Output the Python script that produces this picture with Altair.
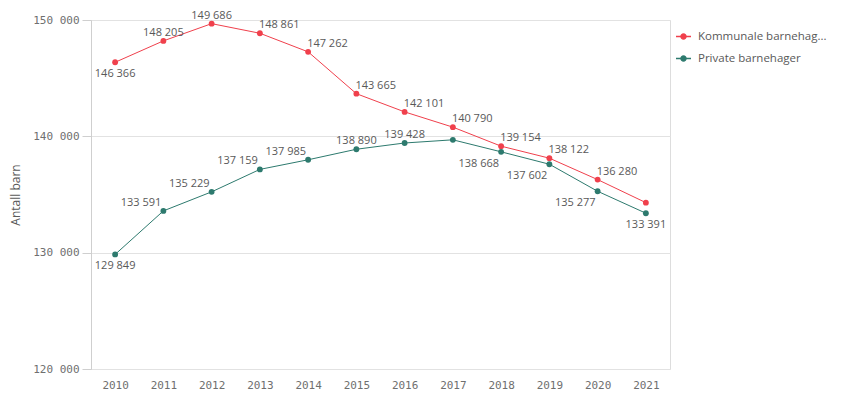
import altair as alt
import pandas as pd

years = ["2010", "2011", "2012", "2013", "2014", "2015",
         "2016", "2017", "2018", "2019", "2020", "2021"]
series_names = ["Kommunale barnehager", "Private barnehager"]
kommunale = [146366, 148205, 149686, 148861, 147262, 143665,
             142101, 140790, 139154, 138122, 136280, 134300]
private = [129849, 133591, 135229, 137159, 137985, 138890,
           139428, 139700, 138668, 137602, 135277, 133391]
y_ticks = [120000, 130000, 140000, 150000]
colors = ["#f0404c", "#2d7a6e"]

# label placement (style, not data)
place_k = ["below-center", "above-center", "above-center"] + ["above-left"] * 8 + ["none"]
place_p = (["below-center"] + ["above-right"] * 4 + ["above-center", "above-center", "none"]
           + ["below-right"] * 3 + ["below-center"])

rows = []
for i, y in enumerate(years):
    rows.append({"year": y, "series": series_names[0], "value": kommunale[i], "place": place_k[i]})
    rows.append({"year": y, "series": series_names[1], "value": private[i], "place": place_p[i]})
df = pd.DataFrame(rows)

legend_path = "M-1,0L-0.33,0M0.33,0L1,0M0.33,0A0.33,0.33,0,1,1,-0.33,0A0.33,0.33,0,1,1,0.33,0Z"

legend = alt.Legend(
    title=None, orient="none", legendX=584, legendY=8,
    symbolType=legend_path, symbolSize=225, symbolStrokeWidth=1.5,
    labelFont="Open Sans", labelFontSize=11.5, labelColor="#595959",
    rowPadding=8, labelOffset=6, labelLimit=200,
    labelExpr="datum.label == 'Kommunale barnehager' ? 'Kommunale barnehag...' : datum.label",
)

color = alt.Color("series:N",
                  scale=alt.Scale(domain=series_names, range=colors),
                  legend=legend)

x = alt.X("year:O", scale=alt.Scale(type="point", padding=0.5),
          axis=alt.Axis(title=None, domain=False, ticks=False, grid=False,
                        labelAngle=0, labelFont="DejaVu Sans Mono", labelFontSize=11,
                        labelColor="#6f6f6f", labelPadding=10))
y = alt.Y("value:Q", scale=alt.Scale(domain=[120000, 150000], nice=False, zero=False),
          axis=alt.Axis(title="Antall barn", values=y_ticks,
                        labelExpr="replace(format(datum.value, ',d'), ',', ' ')",
                        labelFont="DejaVu Sans Mono", labelFontSize=11, labelColor="#6f6f6f",
                        titleFont="Open Sans", titleFontSize=12, titleFontWeight="normal",
                        titleColor="#595959", titlePadding=10,
                        grid=True, gridColor="#e2e2e2", domainColor="#cfcfcf",
                        tickColor="#cfcfcf", tickSize=9, labelPadding=3))

base = alt.Chart(df).encode(x=x, y=y)

lines = base.mark_line(strokeWidth=1).encode(color=color)
points = base.mark_point(filled=True, size=34, opacity=1).encode(color=color)

text_layers = []
for vpos, dy in [("above", -8), ("below", 12)]:
    for align, dx in [("left", -1), ("center", 0), ("right", -2)]:
        t = base.transform_filter(
            alt.datum.place == f"{vpos}-{align}"
        ).transform_calculate(
            lbl="replace(format(datum.value, ',d'), ',', ' ')"
        ).mark_text(
            align=align, baseline="middle", dx=dx, dy=dy,
            font="Open Sans", fontSize=11, color="#595959"
        ).encode(text="lbl:N")
        text_layers.append(t)

chart = alt.layer(lines, points, *text_layers).properties(
    width=579, height=349,
    autosize=alt.AutoSizeParams(type="none"),
    padding={"left": 83, "top": 12, "right": 165, "bottom": 26},
).configure_view(stroke=None).configure(background="white")

chart.save("out.html", embed_options={"renderer": "svg", "actions": False})
